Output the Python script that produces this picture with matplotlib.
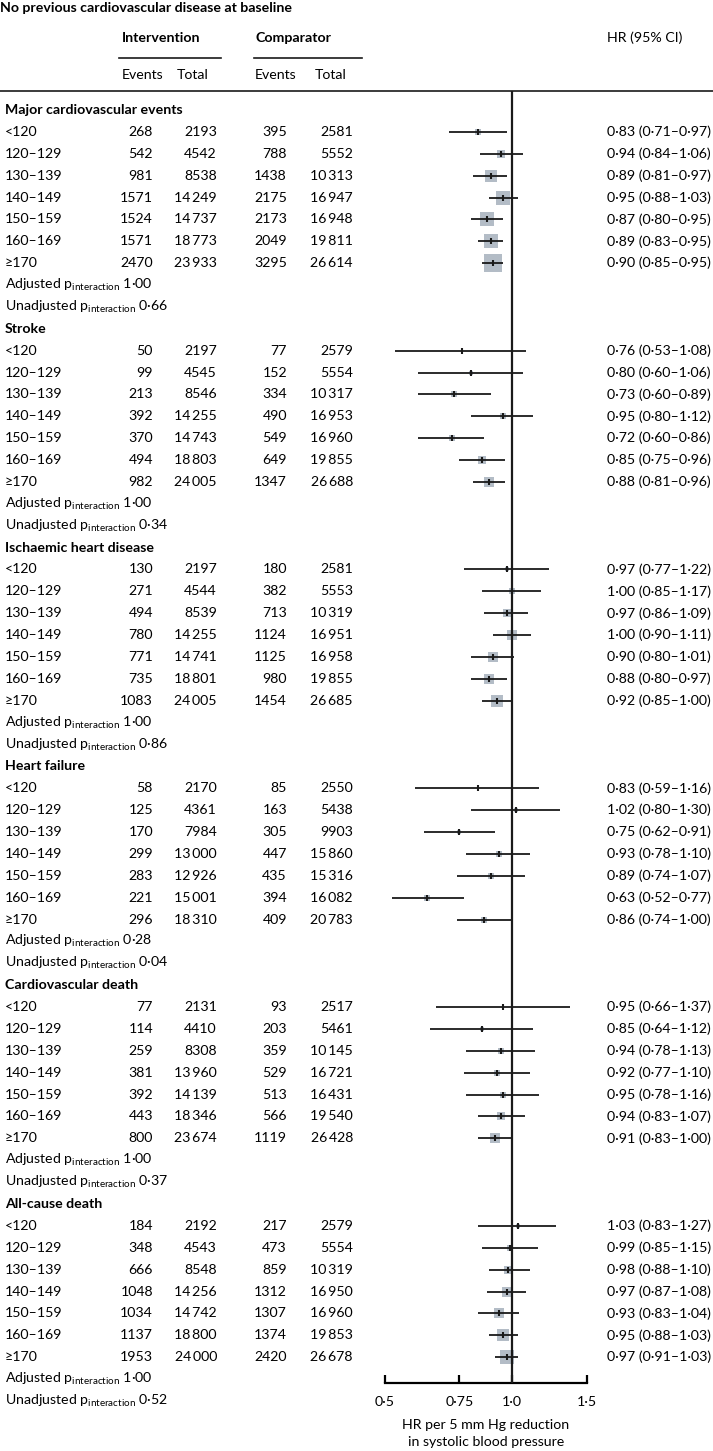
import numpy as np
import matplotlib
matplotlib.use("Agg")
import matplotlib.pyplot as plt
from matplotlib.lines import Line2D
from matplotlib.transforms import blended_transform_factory

plt.rcParams['font.family'] = ['Lato', 'DejaVu Sans']
plt.rcParams['mathtext.fontset'] = 'custom'
plt.rcParams['mathtext.rm'] = 'Lato'
plt.rcParams['mathtext.it'] = 'Lato'

title = "No previous cardiovascular disease at baseline"
groups = ['<120', '120–129', '130–139', '140–149', '150–159', '160–169', '≥170']
outcomes = ['Major cardiovascular events', 'Stroke', 'Ischaemic heart disease',
            'Heart failure', 'Cardiovascular death', 'All-cause death']

int_events = [
    [268, 542, 981, 1571, 1524, 1571, 2470],
    [50, 99, 213, 392, 370, 494, 982],
    [130, 271, 494, 780, 771, 735, 1083],
    [58, 125, 170, 299, 283, 221, 296],
    [77, 114, 259, 381, 392, 443, 800],
    [184, 348, 666, 1048, 1034, 1137, 1953],
]
int_total = [
    [2193, 4542, 8538, 14249, 14737, 18773, 23933],
    [2197, 4545, 8546, 14255, 14743, 18803, 24005],
    [2197, 4544, 8539, 14255, 14741, 18801, 24005],
    [2170, 4361, 7984, 13000, 12926, 15001, 18310],
    [2131, 4410, 8308, 13960, 14139, 18346, 23674],
    [2192, 4543, 8548, 14256, 14742, 18800, 24000],
]
comp_events = [
    [395, 788, 1438, 2175, 2173, 2049, 3295],
    [77, 152, 334, 490, 549, 649, 1347],
    [180, 382, 713, 1124, 1125, 980, 1454],
    [85, 163, 305, 447, 435, 394, 409],
    [93, 203, 359, 529, 513, 566, 1119],
    [217, 473, 859, 1312, 1307, 1374, 2420],
]
comp_total = [
    [2581, 5552, 10313, 16947, 16948, 19811, 26614],
    [2579, 5554, 10317, 16953, 16960, 19855, 26688],
    [2581, 5553, 10319, 16951, 16958, 19855, 26685],
    [2550, 5438, 9903, 15860, 15316, 16082, 20783],
    [2517, 5461, 10145, 16721, 16431, 19540, 26428],
    [2579, 5554, 10319, 16950, 16960, 19853, 26678],
]
hr = [
    [0.83, 0.94, 0.89, 0.95, 0.87, 0.89, 0.90],
    [0.76, 0.80, 0.73, 0.95, 0.72, 0.85, 0.88],
    [0.97, 1.00, 0.97, 1.00, 0.90, 0.88, 0.92],
    [0.83, 1.02, 0.75, 0.93, 0.89, 0.63, 0.86],
    [0.95, 0.85, 0.94, 0.92, 0.95, 0.94, 0.91],
    [1.03, 0.99, 0.98, 0.97, 0.93, 0.95, 0.97],
]
ci_lo = [
    [0.71, 0.84, 0.81, 0.88, 0.80, 0.83, 0.85],
    [0.53, 0.60, 0.60, 0.80, 0.60, 0.75, 0.81],
    [0.77, 0.85, 0.86, 0.90, 0.80, 0.80, 0.85],
    [0.59, 0.80, 0.62, 0.78, 0.74, 0.52, 0.74],
    [0.66, 0.64, 0.78, 0.77, 0.78, 0.83, 0.83],
    [0.83, 0.85, 0.88, 0.87, 0.83, 0.88, 0.91],
]
ci_hi = [
    [0.97, 1.06, 0.97, 1.03, 0.95, 0.95, 0.95],
    [1.08, 1.06, 0.89, 1.12, 0.86, 0.96, 0.96],
    [1.22, 1.17, 1.09, 1.11, 1.01, 0.97, 1.00],
    [1.16, 1.30, 0.91, 1.10, 1.07, 0.77, 1.00],
    [1.37, 1.12, 1.13, 1.10, 1.16, 1.07, 1.00],
    [1.27, 1.15, 1.10, 1.08, 1.04, 1.03, 1.03],
]
p_adjusted = ['1·00', '1·00', '1·00', '0·28', '1·00', '1·00']
p_unadjusted = ['0·66', '0·34', '0·86', '0·04', '0·37', '0·52']

xticks = [0.5, 0.75, 1.0, 1.5]
xticklabels = ['0·5', '0·75', '1·0', '1·5']


def fmt_n(n):
    if n >= 10000:
        return f"{n:,}".replace(',', '\u2009')
    return str(n)


def fmt_hr(h, lo, hi):
    return f"{h:.2f} ({lo:.2f}–{hi:.2f})".replace('.', '·')


W, H = 713, 1451
fig = plt.figure(figsize=(W / 100, H / 100), dpi=100)

# forest axes, placed in pixel terms
x0, x1 = 384.7, 586.7
ytop, ybot = 91, 1383
row0, step = 110, 21.88
ax = fig.add_axes([x0 / W, 1 - ybot / H, (x1 - x0) / W, (ybot - ytop) / H])
ax.set_xscale('log')
ax.set_xlim(0.5, 1.5)
ax.set_ylim((ybot - row0) / step, (ytop - row0) / step)
for sp in ['top', 'right', 'left']:
    ax.spines[sp].set_visible(False)
ax.spines['bottom'].set_linewidth(1.6)
ax.set_yticks([])
ax.set_xticks(xticks)
ax.set_xticklabels(xticklabels)
ax.xaxis.set_minor_locator(matplotlib.ticker.NullLocator())
fs = 10.2
ax.tick_params(axis='x', direction='in', length=6, width=1.6, pad=9, labelsize=fs)
ax.set_xlabel("HR per 5 mm Hg reduction\nin systolic blood pressure", fontsize=fs,
              labelpad=8, linespacing=1.5)
ax.axvline(1.0, color='#1a1a1a', lw=1.6, zorder=5)

tr = blended_transform_factory(fig.transFigure, ax.transData)

for s, name in enumerate(outcomes):
    base = 10 * s
    ax.text(5 / W, base, name, transform=tr, ha='left', va='center', fontsize=fs, fontweight='bold')
    ev_sum = np.array(int_events[s]) + np.array(comp_events[s])
    for g, lab in enumerate(groups):
        y = base + 1 + g
        ax.text(5 / W, y, lab, transform=tr, ha='left', va='center', fontsize=fs)
        ax.text(153 / W, y, fmt_n(int_events[s][g]), transform=tr, ha='right', va='center', fontsize=fs)
        ax.text(217 / W, y, fmt_n(int_total[s][g]), transform=tr, ha='right', va='center', fontsize=fs)
        ax.text(287 / W, y, fmt_n(comp_events[s][g]), transform=tr, ha='right', va='center', fontsize=fs)
        ax.text(353 / W, y, fmt_n(comp_total[s][g]), transform=tr, ha='right', va='center', fontsize=fs)
        ax.text(607 / W, y, fmt_hr(hr[s][g], ci_lo[s][g], ci_hi[s][g]), transform=tr,
                ha='left', va='center', fontsize=fs)
        side = 0.224 * np.sqrt(ev_sum[g]) * 0.72
        ax.scatter([hr[s][g]], [y], marker='s', s=side ** 2, color='#b3bcc6', linewidths=0, zorder=2)
        ax.hlines(y, ci_lo[s][g], ci_hi[s][g], color='#1a1a1a', lw=1.3, zorder=3)
        ax.plot([hr[s][g]], [y], marker='|', ms=4, mew=1.5, color='#1a1a1a', zorder=4)
    ax.text(5 / W, base + 8, r"Adjusted p$_{\mathrm{interaction}}$ " + p_adjusted[s],
            transform=tr, ha='left', va='center', fontsize=fs)
    ax.text(5 / W, base + 9, r"Unadjusted p$_{\mathrm{interaction}}$ " + p_unadjusted[s],
            transform=tr, ha='left', va='center', fontsize=fs)

# header
fig.text(0, 1 - 8 / H, title, ha='left', va='center', fontsize=fs, fontweight='bold')
fig.text(122 / W, 1 - 38 / H, 'Intervention', ha='left', va='center', fontsize=fs, fontweight='bold')
fig.text(255 / W, 1 - 38 / H, 'Comparator', ha='left', va='center', fontsize=fs, fontweight='bold')
fig.text(607 / W, 1 - 38 / H, 'HR (95% CI)', ha='left', va='center', fontsize=fs)
for xx, lab in [(122, 'Events'), (177, 'Total'), (255, 'Events'), (315, 'Total')]:
    fig.text(xx / W, 1 - 75 / H, lab, ha='left', va='center', fontsize=fs)
fig.add_artist(Line2D([119 / W, 221 / W], [1 - 58 / H] * 2, color='#1a1a1a', lw=1.2))
fig.add_artist(Line2D([254 / W, 362 / W], [1 - 58 / H] * 2, color='#1a1a1a', lw=1.2))
fig.add_artist(Line2D([0, 1], [1 - ytop / H] * 2, color='#1a1a1a', lw=1.2))

fig.savefig('out.png', dpi=100)
